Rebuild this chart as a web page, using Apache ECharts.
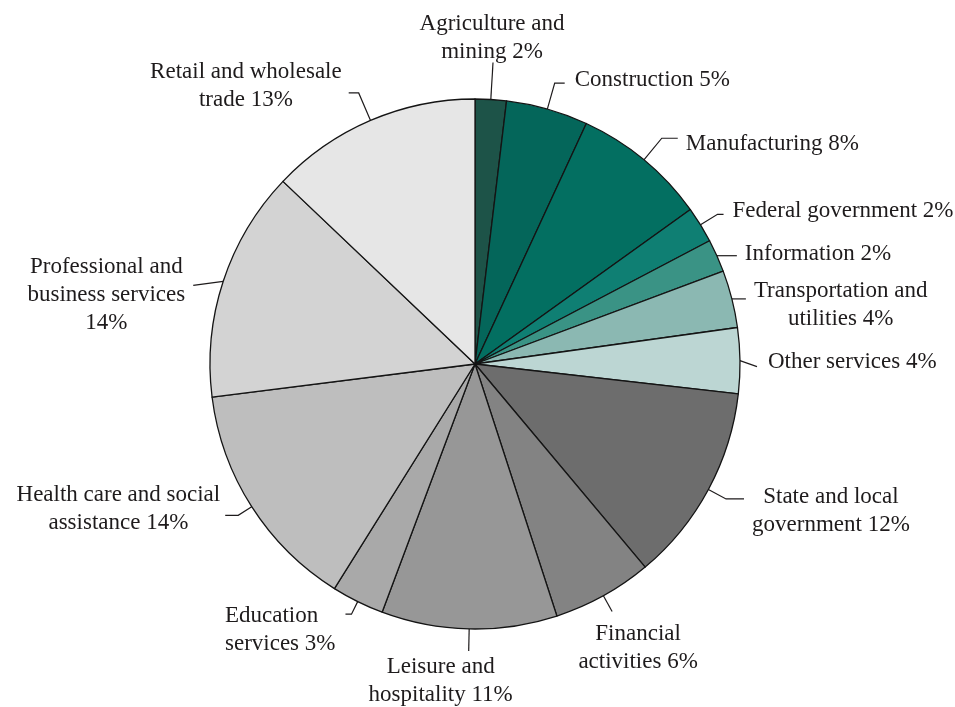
<!DOCTYPE html>
<html><head><meta charset="utf-8">
<script src="https://cdn.jsdelivr.net/npm/echarts@6/dist/echarts.min.js"></script>
<style>html,body{margin:0;padding:0;background:#fff}#c{width:955px;height:707px}</style>
</head><body><div id="c"></div>
<script>
// Sectors in clockwise order starting at 12 o'clock
const sectors = [
  'Agriculture and mining', 'Construction', 'Manufacturing', 'Federal government',
  'Information', 'Transportation and utilities', 'Other services',
  'State and local government', 'Financial activities', 'Leisure and hospitality',
  'Education services', 'Health care and social assistance',
  'Professional and business services', 'Retail and wholesale trade'
];
const shares = [1.9, 5.0, 8.2, 2.2, 2.0, 3.5, 4.0, 12.1, 6.1, 10.7, 3.2, 14.1, 14.1, 12.9];
const labelTexts = [
  'Agriculture and\nmining 2%', 'Construction 5%', 'Manufacturing 8%', 'Federal government 2%',
  'Information 2%', 'Transportation and\nutilities 4%', 'Other services 4%',
  'State and local\ngovernment 12%', 'Financial\nactivities 6%', 'Leisure and\nhospitality 11%',
  'Education\nservices 3%', 'Health care and social\nassistance 14%',
  'Professional and\nbusiness services\n14%', 'Retail and wholesale\ntrade 13%'
];
const colors = [
  '#1d5348', '#04665a', '#036f61', '#0f7f73', '#3a9385', '#8bb8b2', '#bcd6d3',
  '#6d6d6d', '#838383', '#979797', '#a9a9a9', '#bebebe', '#d3d3d3', '#e6e6e6'
];

const CX = 475, CY = 364, R = 265;
const FONT = 'Liberation Serif';
const TXT = '#1e1b1c';
// leader line styling: radial run, horizontal run (ey: end vertical shift), label side and offsets
const leader = [
  {r: 37, h: 0, mode: 'top', dx: -1, gap: -3},
  {r: 27, h: 10, mode: 'right', gap: 10, dy: -3},
  {r: 28, h: 16, mode: 'right', gap: 8, dy: 6},
  {r: 20, h: 6, mode: 'right', gap: 9, dy: -3},
  {r: 0, h: 20, mode: 'right', gap: 8, dy: -2},
  {r: 0, h: 14, mode: 'right', gap: 8, dy: 6},
  {r: 0, h: 17, ey: 6, mode: 'right', gap: 11, dy: 1},
  {r: 20, h: 18, mode: 'right', gap: 8, dy: 12},
  {r: 18, h: 0, mode: 'bottom', gap: 8, dx: 26},
  {r: 22, h: 0, mode: 'bottom', gap: 2, dx: -28},
  {r: 14, h: -6, mode: 'left', gap: 10, dy: 16},
  {r: 16, h: -13, mode: 'left', gap: 5, dy: -6},
  {r: 0, h: -30, ey: 4, mode: 'left', gap: 8, dy: 14},
  {r: 30, h: -10, mode: 'left', gap: 7, dy: -7}
];

const total = shares.reduce((a, b) => a + b, 0);
function anchor(i) {
  let cum = 0;
  for (let k = 0; k < i; k++) cum += shares[k];
  const mid = (cum + shares[i] / 2) / total * Math.PI * 2;
  return [CX + R * Math.sin(mid), CY - R * Math.cos(mid)];
}

const textStyle = {fontFamily: FONT, fontSize: 23, lineHeight: 28, color: TXT};

const chart = echarts.init(document.getElementById('c'), null, {renderer: 'canvas'});
chart.setOption({
  animation: false,
  backgroundColor: '#ffffff',
  series: [{
    type: 'pie',
    center: [CX, CY],
    radius: [0, R],
    startAngle: 90,
    clockwise: true,
    avoidLabelOverlap: false,
    emphasis: {disabled: true},
    itemStyle: {borderColor: '#141414', borderWidth: 1.3},
    label: {
      show: true,
      position: 'outside',
      fontFamily: FONT, fontSize: 23, lineHeight: 28, color: TXT,
      formatter: function (p) {
        const key = p.dataIndex === 10 ? 'l' : 'c';
        return labelTexts[p.dataIndex].split('\n').map(s => '{' + key + '|' + s + '}').join('\n');
      },
      rich: {
        c: Object.assign({align: 'center'}, textStyle),
        l: Object.assign({align: 'left'}, textStyle)
      }
    },
    labelLine: {show: true, length: 10, length2: 10, lineStyle: {color: '#1e1b1c', width: 1.2}},
    labelLayout: function (p) {
      const i = p.dataIndex;
      const c = leader[i];
      const s = (p.labelLinePoints && p.labelLinePoints[0]) ? p.labelLinePoints[0].slice() : anchor(i);
      const vx = s[0] - CX, vy = s[1] - CY, len = Math.hypot(vx, vy) || 1;
      const b = [s[0] + vx / len * c.r, s[1] + vy / len * c.r];
      const e = [b[0] + c.h, b[1] + (c.ey || 0)];
      const out = {labelLinePoints: [s, b, e]};
      if (c.mode === 'right') {
        out.x = e[0] + c.gap; out.y = e[1] + (c.dy || 0) - (c.ey || 0); out.align = 'left'; out.verticalAlign = 'middle';
      } else if (c.mode === 'left') {
        out.x = e[0] - c.gap; out.y = e[1] + (c.dy || 0) - (c.ey || 0); out.align = 'right'; out.verticalAlign = 'middle';
      } else if (c.mode === 'top') {
        out.x = e[0] + (c.dx || 0); out.y = e[1] - c.gap; out.align = 'center'; out.verticalAlign = 'bottom';
      } else {
        out.x = e[0] + (c.dx || 0); out.y = e[1] + c.gap; out.align = 'center'; out.verticalAlign = 'top';
      }
      return out;
    },
    data: sectors.map((n, i) => ({name: n, value: shares[i], itemStyle: {color: colors[i]}}))
  }]
});
</script>
</body></html>
